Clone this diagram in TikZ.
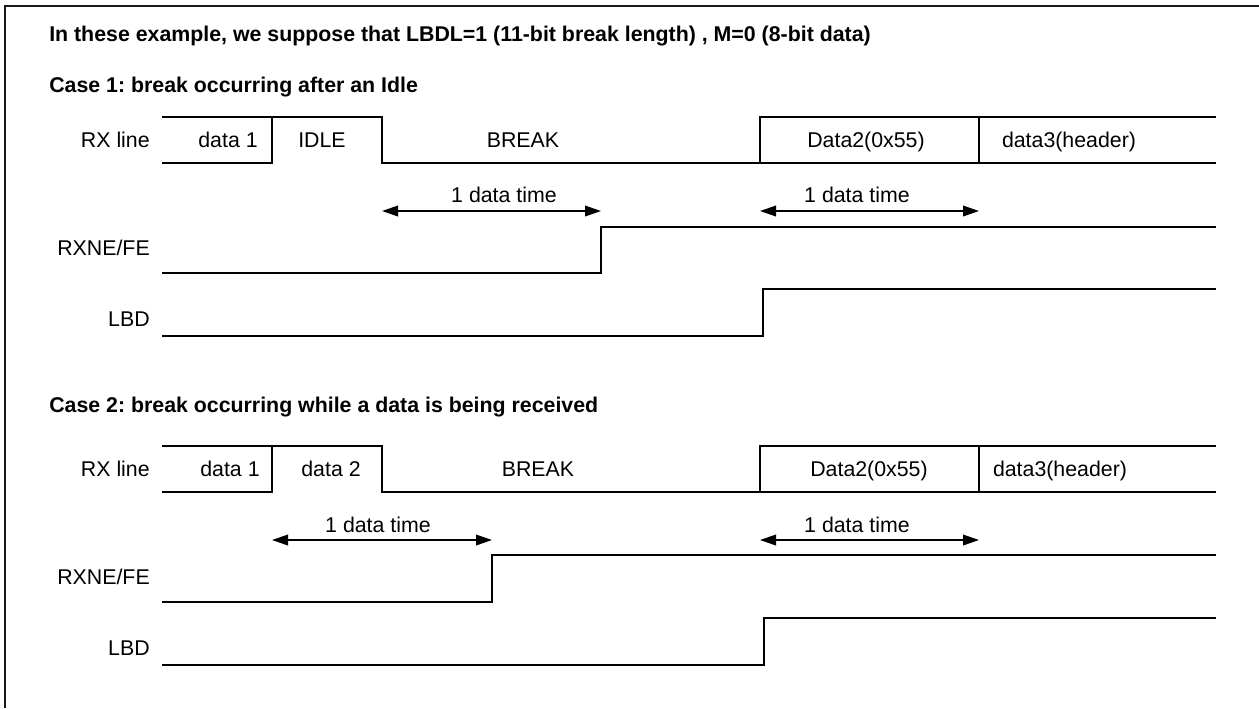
\documentclass[tikz,border=0pt]{standalone}
\usepackage{fontspec}
\setmainfont{Liberation Sans}
\usetikzlibrary{arrows.meta, positioning}
\frenchspacing
\tikzset{
    wave/.style={line width=1.1pt, draw=black},
    frame/.style={line width=1.5pt, draw=black!90},
    siglabel/.style={anchor=base east, inner sep=0pt, font=\fontsize{16}{19}\selectfont},
    cell/.style={anchor=base, inner sep=0pt, font=\fontsize{16}{19}\selectfont},
    heading/.style={anchor=base west, inner sep=0pt, font=\fontsize{16}{19}\selectfont\bfseries},
    span/.style={{Triangle[length=12pt, width=8pt]}-{Triangle[length=12pt, width=8pt]}, line width=1.1pt},
}

\begin{document}
\begin{tikzpicture}[x=0.75pt, y=-0.75pt]
    \useasboundingbox (0,0) rectangle (1259,708);
    % Frame
    \draw[frame] (5,708) -- (5,6) -- (1259,6);

    % Headings
    \node[heading] (title) at (49,41) {In these example, we suppose that LBDL=1 (11-bit break length) , M=0 (8-bit data)};
    \node[heading] (case1) at (49,92) {Case 1: break occurring after an Idle};
    \node[heading] (case2) at (49,412) {Case 2: break occurring while a data is being received};

    % Case 1 signal names
    \node[siglabel] (rx1) at (150,147) {RX line};
    \node[siglabel] (rxne1) at (150,255) {RXNE/FE};
    \node[siglabel] (lbd1) at (150,326) {LBD};

    % Case 1 RX line
    \draw[wave] (162,163) -- (272,163) -- (272,117);
    \draw[wave] (162,117) -- (382,117) -- (382,163) -- (1216,163);
    \draw[wave] (760,163) -- (760,117) -- (1216,117);
    \draw[wave] (979,117) -- (979,163);
    \node[cell] (d1a) at (228,147) {data 1};
    \node[cell] (idle) at (322,147) {IDLE};
    \node[cell] (brk1) at (523,147) {BREAK};
    \node[cell] (d2a) at (866,147) {Data2(0x55)};
    \node[cell] (d3a) at (1069,147) {data3(header)};

    % Case 1 data times
    \coordinate (t1l) at (382,211);
    \coordinate (t1r) at (601,211);
    \coordinate (t2l) at (760,211);
    \coordinate (t2r) at (979,211);
    \draw[span] (t1l) -- (t1r);
    \draw[span] (t2l) -- (t2r);
    \node[cell] (tm1) at (504,202) {1 data time};
    \node[cell] (tm2) at (857,202) {1 data time};

    % Case 1 flags
    \draw[wave] (162,273) -- (601,273) -- (601,227) -- (1216,227);
    \draw[wave] (162,336) -- (763,336) -- (763,289) -- (1216,289);

    % Case 2 signal names
    \node[siglabel] (rx2) at (150,476) {RX line};
    \node[siglabel] (rxne2) at (150,584) {RXNE/FE};
    \node[siglabel] (lbd2) at (150,655) {LBD};

    % Case 2 RX line
    \draw[wave] (162,492) -- (272,492) -- (272,446);
    \draw[wave] (162,446) -- (382,446) -- (382,492) -- (1216,492);
    \draw[wave] (760,492) -- (760,446) -- (1216,446);
    \draw[wave] (979,446) -- (979,492);
    \node[cell] (d1b) at (230,476) {data 1};
    \node[cell] (d2x) at (331,476) {data 2};
    \node[cell] (brk2) at (538,476) {BREAK};
    \node[cell] (d2b) at (869,476) {Data2(0x55)};
    \node[cell] (d3b) at (1060,476) {data3(header)};

    % Case 2 data times
    \coordinate (t3l) at (272,540);
    \coordinate (t3r) at (492,540);
    \coordinate (t4l) at (760,540);
    \coordinate (t4r) at (979,540);
    \draw[span] (t3l) -- (t3r);
    \draw[span] (t4l) -- (t4r);
    \node[cell] (tm3) at (378,532) {1 data time};
    \node[cell] (tm4) at (857,532) {1 data time};

    % Case 2 flags
    \draw[wave] (162,602) -- (492,602) -- (492,555) -- (1216,555);
    \draw[wave] (162,665) -- (764,665) -- (764,618) -- (1216,618);
\end{tikzpicture}
\end{document}
